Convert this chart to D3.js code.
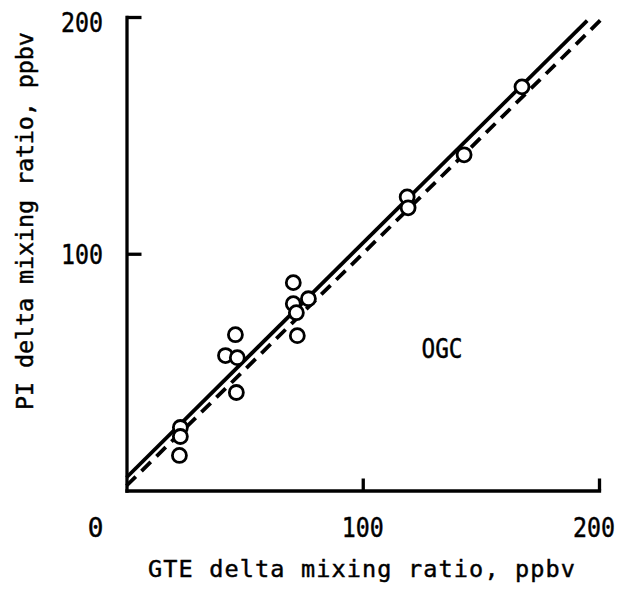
<!DOCTYPE html>
<html>
<head>
<meta charset="utf-8">
<script src="https://cdn.jsdelivr.net/npm/d3@7"></script>
<style>
  html, body { margin: 0; padding: 0; background: #fff; }
  svg { display: block; }
  text { font-family: "DejaVu Sans Mono", "Liberation Mono", monospace; fill: #000; stroke: #000; stroke-width: 0.45px; }
</style>
</head>
<body>
<svg id="chart" width="633" height="596"></svg>
<script>
// ---- data ----
const gteValues = [167.4, 142.9, 118.8, 119.2, 70.6, 70.6, 77.0, 71.9, 72.3, 46.1, 41.9, 46.9, 46.5, 22.8, 22.8, 22.4];
const piValues  = [170.5, 141.8, 124.0, 119.4, 87.8, 78.9, 81.0, 75.1, 65.4, 65.8, 57.0, 56.1, 41.4, 26.6, 22.8, 14.8];
const fitLineX  = [0, 195];      // regression line (solid)
const fitLineY  = [5.5, 198.5];
const refLineX  = [0, 201.5];    // reference line (dashed)
const refLineY  = [2, 199.5];
const tickValues = [100, 200];
const xTickLabels = ["0", "100", "200"];
const yTickLabels = ["100", "200"];
const xTitle = "GTE delta mixing ratio, ppbv";
const yTitle = "PI delta mixing ratio, ppbv";
const annotation = "OGC";

// ---- chart ----
const svg = d3.select("#chart");
const x = d3.scaleLinear().domain([0, 200]).range([126.5, 599]);
const y = d3.scaleLinear().domain([0, 200]).range([490.5, 17]);

// axes (lines + inward ticks)
const gx = svg.append("g").attr("transform", `translate(0,${y(0)})`)
  .call(d3.axisBottom(x).tickValues(tickValues).tickSizeInner(-12).tickSizeOuter(0).tickFormat(""));
const gy = svg.append("g").attr("transform", `translate(${x(0)},0)`)
  .call(d3.axisLeft(y).tickValues(tickValues).tickSizeInner(-15).tickSizeOuter(0).tickFormat(""));
[gx, gy].forEach(g => {
  g.select(".domain").attr("stroke", "#000").attr("stroke-width", 3.3).attr("stroke-linecap", "square");
  g.selectAll(".tick line").attr("stroke", "#000").attr("stroke-width", 3.3);
});

// tick labels
const xLabelVals = [0, 100, 200];
const xLabelDx = [-31, 0, -5];
svg.append("g").selectAll("text").data(xTickLabels).join("text")
  .attr("x", (d, i) => x(xLabelVals[i]) + xLabelDx[i])
  .attr("y", 537)
  .attr("text-anchor", "middle")
  .attr("font-size", 26)
  .attr("textLength", d => d.length > 1 ? 42 : null)
  .attr("lengthAdjust", "spacingAndGlyphs")
  .text(d => d);

const yLabelBase = [264, 32];
svg.append("g").selectAll("text").data(yTickLabels).join("text")
  .attr("x", 103)
  .attr("y", (d, i) => yLabelBase[i])
  .attr("text-anchor", "end")
  .attr("font-size", 26)
  .attr("textLength", 42)
  .attr("lengthAdjust", "spacingAndGlyphs")
  .text(d => d);

// axis titles
svg.append("text")
  .attr("x", 361.5).attr("y", 577)
  .attr("text-anchor", "middle")
  .attr("font-size", 23.5)
  .attr("textLength", 427)
  .attr("lengthAdjust", "spacing")
  .text(xTitle);

svg.append("text")
  .attr("transform", "translate(33,221) rotate(-90)")
  .attr("text-anchor", "middle")
  .attr("font-size", 23.5)
  .attr("textLength", 378)
  .attr("lengthAdjust", "spacing")
  .text(yTitle);

// lines
const lineGen = d3.line().x(d => x(d[0])).y(d => y(d[1]));
svg.append("path")
  .datum(refLineX.map((v, i) => [v, refLineY[i]]))
  .attr("d", lineGen)
  .attr("fill", "none").attr("stroke", "#000").attr("stroke-width", 3.8)
  .attr("stroke-dasharray", "13,8");
svg.append("path")
  .datum(fitLineX.map((v, i) => [v, fitLineY[i]]))
  .attr("d", lineGen)
  .attr("fill", "none").attr("stroke", "#000").attr("stroke-width", 3.8);

// points
svg.append("g").selectAll("circle").data(gteValues).join("circle")
  .attr("cx", d => x(d))
  .attr("cy", (d, i) => y(piValues[i]))
  .attr("r", 7)
  .attr("fill", "#fff")
  .attr("stroke", "#000")
  .attr("stroke-width", 2.8);

// annotation
svg.append("text")
  .attr("x", 442).attr("y", 358)
  .attr("text-anchor", "middle")
  .attr("font-size", 26)
  .attr("textLength", 41)
  .attr("lengthAdjust", "spacingAndGlyphs")
  .text(annotation);
</script>
</body>
</html>
